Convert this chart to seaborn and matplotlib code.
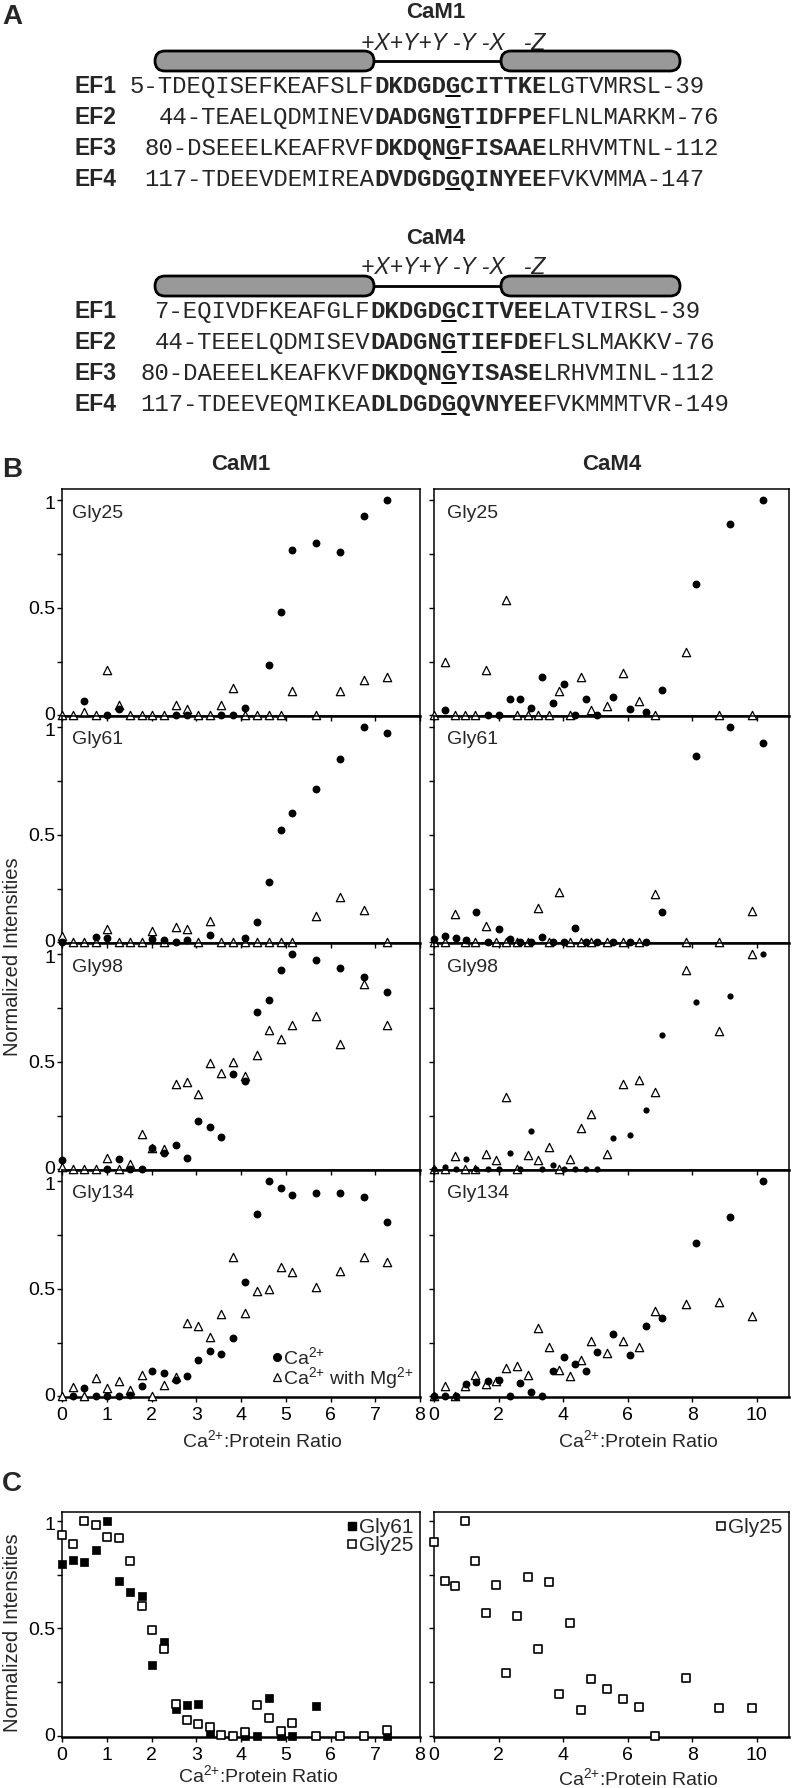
import numpy as np
import matplotlib
matplotlib.use("Agg")
import matplotlib.pyplot as plt
import seaborn as sns
from matplotlib.patches import FancyBboxPatch
from matplotlib.lines import Line2D
from matplotlib.transforms import ScaledTranslation

sns.set_theme(style="ticks")
plt.rcParams['font.family'] = ['Liberation Sans', 'DejaVu Sans']
plt.rcParams['mathtext.default'] = 'regular'

nan = np.nan

# ---- panel A: EF-hand sequences (prefix, loop, suffix) ----
ef_labels = ["EF1", "EF2", "EF3", "EF4"]
cam1_pre = ["5-TDEQISEFKEAFSLF", "44-TEAELQDMINEV", "80-DSEEELKEAFRVF", "117-TDEEVDEMIREA"]
cam1_loop = ["DKDGDGCITTKE", "DADGNGTIDFPE", "DKDQNGFISAAE", "DVDGDGQINYEE"]
cam1_post = ["LGTVMRSL-39", "FLNLMARKM-76", "LRHVMTNL-112", "FVKVMMA-147"]
cam4_pre = ["7-EQIVDFKEAFGLF", "44-TEEELQDMISEV", "80-DAEEELKEAFKVF", "117-TDEEVEQMIKEA"]
cam4_loop = ["DKDGDGCITVEE", "DADGNGTIEFDE", "DKDQNGYISASE", "DLDGDGQVNYEE"]
cam4_post = ["LATVIRSL-39", "FLSLMAKKV-76", "LRHVMINL-112", "FVKMMMTVR-149"]
loop_positions = "+X+Y+Y -Y -X   -Z"

# ---- panel B: titration data ----
residues = ["Gly25", "Gly61", "Gly98", "Gly134"]
cam1_x = [0, 0.25, 0.50, 0.76, 1.00, 1.27, 1.52, 1.78, 2.02, 2.28, 2.55, 2.79, 3.05,
          3.31, 3.56, 3.82, 4.08, 4.36, 4.62, 4.89, 5.15, 5.68, 6.21, 6.74, 7.27]
cam4_ca_x = [0, 0.33, 0.67, 0.98, 1.30, 1.66, 2.00, 2.34, 2.67, 3.02, 3.36, 3.69,
             4.03, 4.38, 4.70, 5.05, 5.55, 6.06, 6.56, 7.08, 8.13, 9.16, 10.20]
cam4_mg_x = [0, 0.33, 0.64, 0.95, 1.27, 1.61, 1.92, 2.23, 2.58, 2.90, 3.22, 3.56,
             3.88, 4.22, 4.55, 4.86, 5.36, 5.86, 6.35, 6.85, 7.81, 8.83, 9.84]

cam1_gly25_ca = [nan, nan, 0.066, nan, 0, 0.03, nan, nan, nan, nan, 0, 0, nan, nan, 0, 0,
                 0.034, nan, 0.236, 0.48, 0.77, 0.80, 0.76, 0.926, 1.0]
cam1_gly25_mg = [0, 0, 0.015, 0, 0.21, 0.046, 0, 0, 0, 0, 0.046, 0.028, 0, 0, 0.05, 0.125,
                 0, 0, 0, 0, 0.113, 0, 0.113, 0.164, 0.176]
cam1_gly61_ca = [0, nan, nan, 0.023, 0.02, nan, nan, nan, 0.015, 0.01, 0, 0.012, nan, 0.035,
                 nan, nan, 0.02, 0.094, 0.28, 0.52, 0.60, 0.71, 0.853, 1.0, 0.972]
cam1_gly61_mg = [0.03, 0, 0, 0, 0.06, 0, 0, 0, 0.055, 0, 0.07, 0.062, 0, 0.097, 0, 0,
                 0, 0, 0, 0, 0, 0.123, 0.21, 0.15, 0]
cam1_gly98_ca = [0.042, nan, nan, nan, 0, 0.046, 0, 0, 0.1, 0.074, 0.113, 0.054, 0.224,
                 0.198, 0.15, 0.445, 0.41, 0.731, 0.788, 0.927, 1.0, 0.97, 0.935, 0.893, 0.824]
cam1_gly98_mg = [0.01, 0, 0, 0, 0.054, 0, 0.023, 0.162, 0.097, 0.093, 0.394, 0.406, 0.352,
                 0.495, 0.448, 0.5, 0.433, 0.53, 0.645, 0.603, 0.672, 0.71, 0.58, 0.862, 0.672]
cam1_gly134_ca = [nan, 0, 0.039, 0, 0, 0, 0.008, 0.05, 0.116, 0.108, 0.076, 0.096, 0.17,
                  0.209, 0.196, 0.269, 0.533, 0.845, 1.0, 0.966, 0.935, 0.946, 0.943, 0.926, 0.811]
cam1_gly134_mg = [0, 0.045, 0, 0.085, 0.037, 0.07, 0.031, 0.1, 0, 0.054, 0.09, 0.342, 0.325,
                  0.277, 0.382, 0.648, 0.386, 0.49, 0.5, 0.6, 0.578, 0.51, 0.583, 0.648, 0.624]

cam4_gly25_ca = [nan, 0.023, nan, nan, nan, 0, 0, 0.077, 0.074, 0.035, 0.176, 0.056, 0.145,
                 0, 0.074, 0, 0.086, 0.028, 0.017, 0.12, 0.61, 0.89, 1.0]
cam4_gly25_mg = [0, 0.25, 0, 0, 0, 0.21, nan, 0.537, 0, 0, 0, 0, 0.111, 0, 0.177, 0.025,
                 0.043, 0.195, 0.066, 0, 0.295, 0, 0]
cam4_gly61_ca = [0.017, 0.03, 0.02, 0.012, 0.139, 0, 0.063, 0.015, 0, 0, 0.023, 0, 0, 0.066,
                 0, 0, 0, 0, 0, 0.139, 0.866, 1.0, 0.926]
cam4_gly61_mg = [0, 0, 0.133, 0, 0, 0.074, 0, 0, 0, 0, 0.159, 0, 0.236, 0, 0, 0, 0, 0, 0,
                 0.225, 0, 0, 0.144]
cam4_gly98_ca = [0, 0.01, 0, 0.046, 0, 0, 0, 0.077, 0, 0.178, 0, 0.02, 0, 0, 0, 0, 0.144,
                 0.158, 0.274, 0.626, 0.778, 0.804, 1.0]
cam4_gly98_mg = [0, 0, 0.062, 0, 0, 0.073, 0.042, 0.335, 0, 0.066, 0.042, 0.104, 0, 0.046,
                 0.19, 0.255, 0.07, 0.394, 0.413, 0.36, 0.927, 0.641, 1.0]
cam4_gly134_ca = [0, 0, 0, 0.057, 0.065, 0.07, 0.076, 0, 0.06, 0.019, 0, 0.119, 0.181, 0.15,
                  0.116, 0.204, 0.289, 0.193, 0.328, 0.363, 0.711, 0.833, 1.0]
cam4_gly134_mg = [0, 0.05, 0, 0.05, 0.1, 0.057, 0.07, 0.13, 0.142, 0.1, 0.317, 0.227, 0.124,
                  0.096, 0.17, 0.258, 0.202, 0.258, 0.227, 0.397, 0.428, 0.436, 0.374]

# ---- panel C: Mg2+ titration ----
c_cam1_gly61 = [0.799, 0.819, 0.806, 0.863, 1.0, 0.722, 0.671, 0.651, 0.333, 0.437, 0.128,
                0.147, 0.148, 0.017, nan, nan, 0, 0, 0.18, 0, 0, 0.14, nan, nan, 0]
c_cam1_gly25 = [0.935, 0.892, 1.0, 0.981, 0.926, 0.92, 0.812, 0.602, 0.495, 0.406, 0.151,
                0.077, 0.056, 0.043, 0.005, 0, 0.02, 0.144, 0.085, 0.025, 0.063, 0, 0, 0, 0.028]
c_cam4_gly25 = [0.9, 0.719, 0.699, 1.0, 0.812, 0.571, 0.702, 0.293, 0.56, 0.738, 0.406,
                0.716, 0.198, 0.525, 0.122, 0.267, 0.22, 0.174, 0.136, 0, 0.272, 0.133, 0.133]

xlab = "Ca$^{2{+}}$:Protein Ratio"
ylab = "Normalized Intensities"

W, H = 793, 1788
fig = plt.figure(figsize=(W / 100, H / 100), dpi=100)

# overlay in pixel coordinates for panel A and the panel letters
ov = fig.add_axes([0, 0, 1, 1])
ov.set_xlim(0, W)
ov.set_ylim(H, 0)
ov.axis("off")
ov.autoscale(False)
renderer = fig.canvas.get_renderer()

MONO = 17.3


def draw_block(y_title, title, pre, loop, post, xb):
    ov.text(436, y_title, title, fontsize=16, fontweight="bold", ha="center", va="center")
    ov.text(361, y_title + 30, loop_positions, fontsize=16.5, style="italic", ha="left", va="center")
    yb = y_title + 48
    for x0, x1 in [(155, 374), (501, 680)]:
        ov.add_patch(FancyBboxPatch((x0, yb - 10), x1 - x0, 20,
                                    boxstyle="round,pad=0,rounding_size=10",
                                    fc="#999999", ec="black", lw=2, zorder=3))
    ov.plot([374, 501], [yb, yb], color="black", lw=2, zorder=2)
    for i in range(4):
        base = y_title + 80 + 31 * i
        ov.text(74, base, ef_labels[i], fontsize=16.5, fontweight="bold", va="baseline")
        ov.text(xb, base, pre[i], fontsize=MONO, family="Liberation Mono", ha="right", va="baseline")
        t = ov.text(xb, base, loop[i], fontsize=MONO, family="Liberation Mono",
                    fontweight="bold", ha="left", va="baseline")
        bb = t.get_window_extent(renderer)
        ov.text(bb.x1, base, post[i], fontsize=MONO, family="Liberation Mono", ha="left", va="baseline")
        cw = bb.width / len(loop[i])
        ov.plot([xb + 5 * cw, xb + 6 * cw], [base + 3, base + 3], color="black", lw=1.4)


draw_block(13, "CaM1", cam1_pre, cam1_loop, cam1_post, 374)
draw_block(238, "CaM4", cam4_pre, cam4_loop, cam4_post, 370)

for letter, y in [("A", 17), ("B", 470), ("C", 1484)]:
    ov.text(2, y, letter, fontsize=20, fontweight="bold", ha="left", va="center")


def px_axes(x0, y0, x1, y1):
    ax = fig.add_axes([x0 / W, 1 - y1 / H, (x1 - x0) / W, (y1 - y0) / H])
    ax.set_facecolor("none")
    return ax


def style(ax, xmax, xstep, ytop, xlabels, ylabels):
    ticks = np.arange(0, xmax + 0.01, xstep)
    ax.set_xlim(0, xmax)
    ax.set_ylim(-0.003, ytop)
    ax.set_xticks(ticks)
    ax.set_yticks([0, 0.25, 0.5, 0.75, 1])
    ax.set_yticklabels(["0", "", "0.5", "", "1"] if ylabels else [])
    if xlabels:
        ax.set_xticklabels([str(int(v)) for v in ticks])
    else:
        ax.set_xticklabels([])
    ax.tick_params(direction="out", length=3.5, width=1, labelsize=14, pad=1.5, colors="black")
    ax.tick_params(axis="x", pad=4)
    for sp in ax.spines.values():
        sp.set_visible(True)
        sp.set_linewidth(1.1)
        sp.set_color("black")
    ax.spines["bottom"].set_linewidth(1.8)
    ax.set_xlabel("")
    ax.set_ylabel("")
    if ylabels:
        # keep the stacked "0" and "1" labels apart, as in the original
        yt = ax.yaxis.get_major_ticks()
        yt[0].label1.set_transform(yt[0].label1.get_transform()
                                   + ScaledTranslation(0, 0.02, fig.dpi_scale_trans))
        yt[4].label1.set_transform(yt[4].label1.get_transform()
                                   + ScaledTranslation(0, -0.03, fig.dpi_scale_trans))


def pair(ax, x_mg, y_mg, x_ca, y_ca, s_ca=32):
    sns.scatterplot(x=x_mg, y=y_mg, ax=ax, marker="^", color="white", edgecolor="black",
                    linewidth=0.9, s=36, clip_on=False, zorder=3, legend=False)
    sns.scatterplot(x=x_ca, y=y_ca, ax=ax, marker="o", color="black", edgecolor="black",
                    linewidth=0, s=s_ca, clip_on=False, zorder=4, legend=False)


cam1_ca = [cam1_gly25_ca, cam1_gly61_ca, cam1_gly98_ca, cam1_gly134_ca]
cam1_mg = [cam1_gly25_mg, cam1_gly61_mg, cam1_gly98_mg, cam1_gly134_mg]
cam4_ca = [cam4_gly25_ca, cam4_gly61_ca, cam4_gly98_ca, cam4_gly134_ca]
cam4_mg = [cam4_gly25_mg, cam4_gly61_mg, cam4_gly98_mg, cam4_gly134_mg]
ca_sizes = [32, 32, 20, 32]

LX, RX = (62, 420), (434, 789)
row_tops = [489, 716, 943, 1170]
row_h = 227
YTOP_B = 1.051

for i, res in enumerate(residues):
    top = row_tops[i]
    last = i == len(residues) - 1
    axl = px_axes(LX[0], top, LX[1], top + row_h)
    pair(axl, cam1_x, cam1_mg[i], cam1_x, cam1_ca[i])
    style(axl, 8, 1, YTOP_B, last, True)
    axl.text(10 / 358, 1 - 24 / row_h, res, transform=axl.transAxes, fontsize=14, va="center")

    axr = px_axes(RX[0], top, RX[1], top + row_h)
    pair(axr, cam4_mg_x, cam4_mg[i], cam4_ca_x, cam4_ca[i], ca_sizes[i])
    style(axr, 11, 2, YTOP_B, last, False)
    axr.text(13 / 355, 1 - 24 / row_h, res, transform=axr.transAxes, fontsize=14, va="center")

    if i == 0:
        axl.set_title("CaM1", fontsize=16, fontweight="bold", pad=14)
        axr.set_title("CaM4", fontsize=16, fontweight="bold", pad=14)
    if last:
        for ax, xc in [(axl, 0.559), (axr, 0.575)]:
            ax.set_xlabel(xlab, fontsize=14)
            ax.xaxis.label.set_va("center")
            ax.xaxis.set_label_coords(xc, -43 / row_h)
        handles = [Line2D([], [], marker="o", ls="none", color="black", ms=5.5),
                   Line2D([], [], marker="^", ls="none", mfc="white", mec="black", mew=0.9, ms=5.5)]
        axl.legend(handles, ["Ca$^{2{+}}$", "Ca$^{2{+}}$ with Mg$^{2{+}}$"], loc="lower right",
                   frameon=False, fontsize=14, handlelength=0.5, handletextpad=0.1,
                   labelspacing=-0.15, borderaxespad=0.2, borderpad=0.1)

ov.text(13, 957, ylab, rotation=90, fontsize=14.5, ha="center", va="center")

# ---- panel C ----
c_top, c_bot = 1512, 1737
c_h = c_bot - c_top
cl = px_axes(LX[0], c_top, LX[1], c_bot)
sns.scatterplot(x=cam1_x, y=c_cam1_gly61, ax=cl, marker="s", color="black", edgecolor="black",
                linewidth=0.5, s=34, clip_on=False, zorder=3, legend=False)
sns.scatterplot(x=cam1_x, y=c_cam1_gly25, ax=cl, marker="s", color="white", edgecolor="black",
                linewidth=1.2, s=34, clip_on=False, zorder=4, legend=False)
style(cl, 8, 1, 1.04, True, True)
cr = px_axes(RX[0], c_top, RX[1], c_bot)
sns.scatterplot(x=cam4_mg_x, y=c_cam4_gly25, ax=cr, marker="s", color="white", edgecolor="black",
                linewidth=1.2, s=34, clip_on=False, zorder=4, legend=False)
style(cr, 11, 2, 1.04, True, False)

for ax, xc, yo in [(cl, 0.548, 38), (cr, 0.575, 41)]:
    ax.set_xlabel(xlab, fontsize=14)
    ax.xaxis.label.set_va("center")
    ax.xaxis.set_label_coords(xc, -yo / c_h)

sq_fill = Line2D([], [], marker="s", ls="none", color="black", ms=6)
sq_open = Line2D([], [], marker="s", ls="none", mfc="white", mec="black", mew=1.1, ms=6)
cl.legend([sq_fill, sq_open], ["Gly61", "Gly25"], loc="upper right", frameon=False, fontsize=15,
          handlelength=0.5, handletextpad=0.1, labelspacing=-0.05, borderaxespad=0.2, borderpad=0.1)
cr.legend([sq_open], ["Gly25"], loc="upper right", frameon=False, fontsize=15,
          handlelength=0.5, handletextpad=0.1, borderaxespad=0.2, borderpad=0.1)

ov.text(13, 1633, ylab, rotation=90, fontsize=14.5, ha="center", va="center")

fig.savefig("out.png", dpi=100)
